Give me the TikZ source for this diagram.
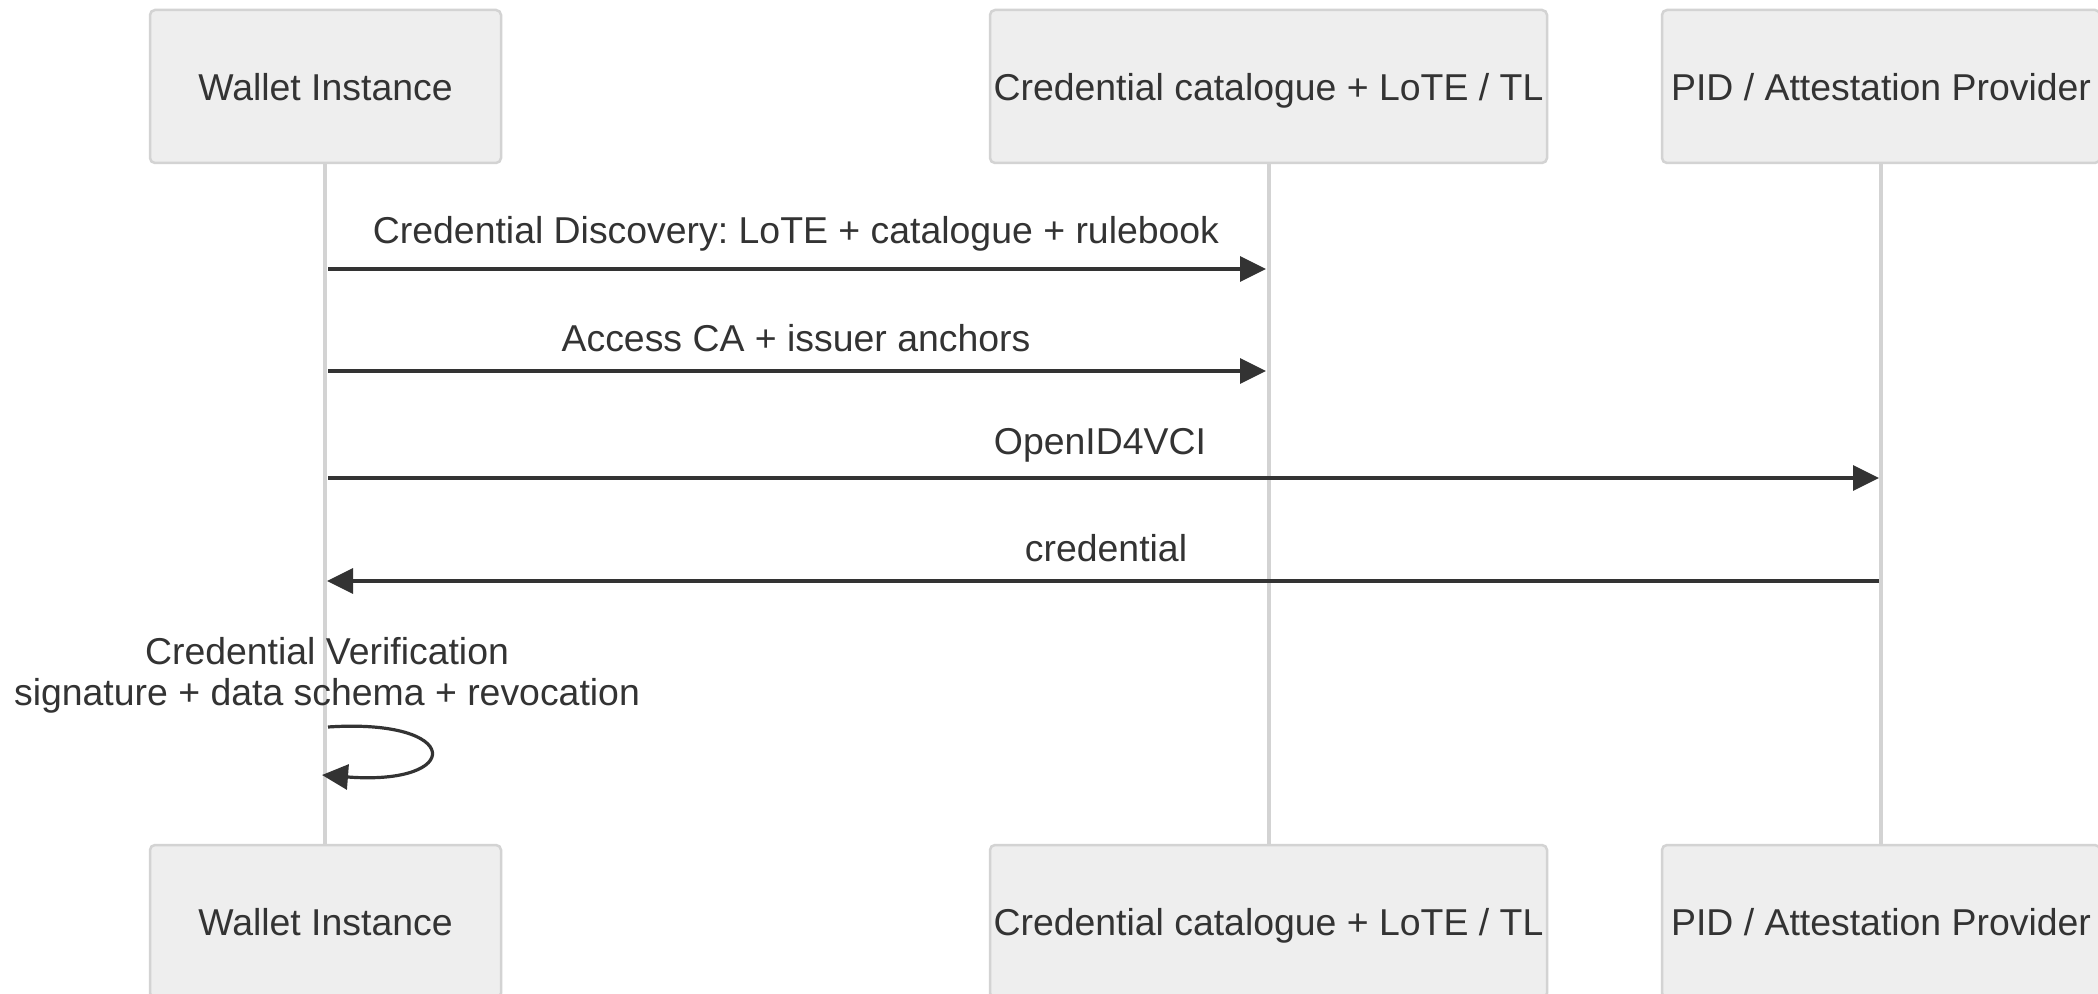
\documentclass[tikz,border=0pt]{standalone}
\usepackage{fontspec}
\setmainfont{Liberation Sans}
\usetikzlibrary{arrows.meta}
\definecolor{ink}{HTML}{333333}
\definecolor{boxfill}{HTML}{EEEEEE}
\definecolor{boxline}{HTML}{D3D3D3}
\definecolor{lifecol}{HTML}{D3D3D3}

\begin{document}
\frenchspacing
\begin{tikzpicture}[x=0.5pt,y=-0.5pt,
  actor/.style={draw=boxline, fill=boxfill, line width=1.25pt, rounded corners=2.5pt,
    minimum height=76.5pt, inner sep=0pt, text=ink, font=\fontsize{18.7}{22}\selectfont,
    text height=13.6pt, text depth=0pt},
  lifeln/.style={draw=lifecol, line width=2pt},
  msg/.style={draw=ink, line width=1.6pt, -{Triangle[length=13pt,width=12.5pt]}},
  msglabel/.style={text=ink, font=\fontsize{18.7}{20.5}\selectfont, inner sep=0pt, align=center},
  msgtext/.style={msglabel, text height=13.6pt, text depth=0pt}
]
\useasboundingbox (0,0) rectangle (2098,994);
\fill[white] (0,0) rectangle (2098,994);

% lifelines
\draw[lifeln] (325,162) -- (325,844);
\draw[lifeln] (1268.5,162) -- (1268.5,844);
\draw[lifeln] (1881,162) -- (1881,844);

% participants, top row
\node[actor, minimum width=175.5pt] (wtop) at (325.5,86.5) {Wallet Instance};
\node[actor, minimum width=278.5pt] (ctop) at (1268.5,86.5) {Credential catalogue + LoTE / TL};
\node[actor, minimum width=219pt] (ptop) at (1881,86.5) {PID / Attestation Provider};

% participants, bottom row
\node[actor, minimum width=175.5pt] (wbot) at (325.5,921.5) {Wallet Instance};
\node[actor, minimum width=278.5pt] (cbot) at (1268.5,921.5) {Credential catalogue + LoTE / TL};
\node[actor, minimum width=219pt] (pbot) at (1881,921.5) {PID / Attestation Provider};

% message anchors on the lifelines
\coordinate (w1) at (328,269);  \coordinate (c1) at (1266,269);
\coordinate (w2) at (328,371);  \coordinate (c2) at (1266,371);
\coordinate (w3) at (328,478);  \coordinate (p3) at (1879,478);
\coordinate (p4) at (1879,581); \coordinate (w4) at (327,581);
\coordinate (ls) at (328,727);  \coordinate (le) at (322,775);

% messages
\draw[msg] (w1) -- (c1);
\node[msgtext] (m1) at (796,230) {Credential Discovery: LoTE + catalogue + rulebook};
\draw[msg] (w2) -- (c2);
\node[msgtext] (m2) at (796,338) {Access CA + issuer anchors};
\draw[msg] (w3) -- (p3);
\node[msgtext] (m3) at (1100,441) {OpenID4VCI};
\draw[msg] (p4) -- (w4);
\node[msgtext] (m4) at (1106,548) {credential};

% self message
\node[msglabel] (m5) at (327,675) {Credential Verification\\signature + data schema + revocation};
\draw[msg] (ls) .. controls (464,718) and (464,786) .. (le);
\end{tikzpicture}
\end{document}
